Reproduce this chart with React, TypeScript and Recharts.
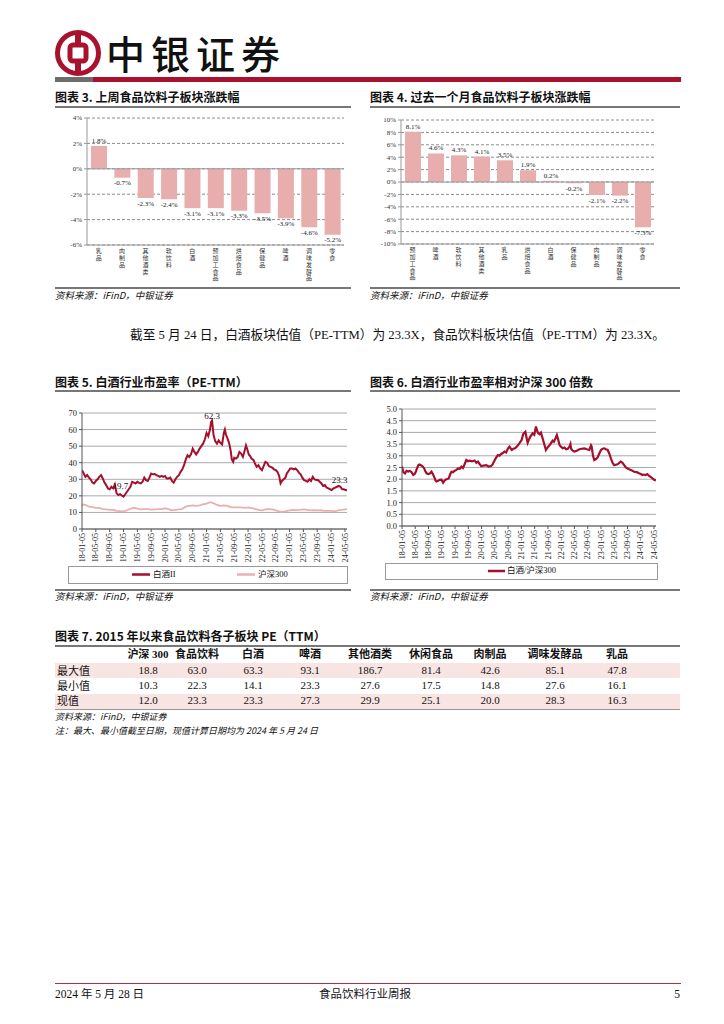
import React from 'react';
import {
  BarChart, Bar, XAxis, YAxis, CartesianGrid, ReferenceLine, LabelList,
  LineChart, Line, ReferenceDot,
} from 'recharts';

const SERIF = '"Liberation Serif", "Noto Sans CJK SC", serif';
const CJK = '"Noto Sans CJK SC", sans-serif';
const RED = '#A8122E';
const BAR = '#E8AEAE';

// ---- Chart 3: last week ----
const wkCats = ['乳品', '肉制品', '其他酒类', '软饮料', '白酒', '预加工食品', '烘焙食品', '保健品', '啤酒', '调味发酵品', '零食'];
const wkVals = [1.8, -0.7, -2.3, -2.4, -3.1, -3.1, -3.3, -3.5, -3.9, -4.6, -5.2];
const wkTicks = [-6, -4, -2, 0, 2, 4];

// ---- Chart 4: last month ----
const moCats = ['预加工食品', '啤酒', '软饮料', '其他酒类', '乳品', '烘焙食品', '白酒', '保健品', '肉制品', '调味发酵品', '零食'];
const moVals = [8.1, 4.6, 4.3, 4.1, 3.5, 1.9, 0.2, -0.2, -2.1, -2.2, -7.3];
const moTicks = [-10, -8, -6, -4, -2, 0, 2, 4, 6, 8, 10];

// ---- Chart 5/6: time axis (months since 2018-01-05) ----
const dateLabels = ['18-01-05', '18-05-05', '18-09-05', '19-01-05', '19-05-05', '19-09-05', '20-01-05', '20-05-05', '20-09-05', '21-01-05', '21-05-05', '21-09-05', '22-01-05', '22-05-05', '22-09-05', '23-01-05', '23-05-05', '23-09-05', '24-01-05', '24-05-05'];
const dateTickPos = [0, 4, 8, 12, 16, 20, 24, 28, 32, 36, 40, 44, 48, 52, 56, 60, 64, 68, 72, 76];
const peTicks = [0, 10, 20, 30, 40, 50, 60, 70];
const ratioTicks = [0, 0.5, 1, 1.5, 2, 2.5, 3, 3.5, 4, 4.5, 5];

const baijiuPE: [number, number][] = [
  [0, 35.5], [0.5, 33.5], [1, 31.5], [1.5, 32.5], [2, 31], [2.5, 30], [3, 28], [3.5, 27.5], [4, 29], [4.5, 30],
  [5, 31.5], [5.5, 32.5], [6, 30.5], [6.5, 28], [7, 26.5], [7.5, 24.5], [8, 24], [8.5, 25.5], [9, 24.5], [9.5, 26.8],
  [10, 21.5], [10.5, 20.5], [11, 21], [11.5, 20.2], [12, 19.5], [12.5, 21], [13, 22.5], [13.5, 24], [14, 25.5], [14.5, 28.5],
  [15, 28], [15.5, 27.5], [16, 28.5], [16.5, 27.8], [17, 27.5], [17.5, 28.5], [18, 31], [18.5, 29.5], [19, 29], [19.5, 31],
  [20, 33.5], [20.5, 33], [21, 33.2], [21.5, 32.5], [22, 32], [22.5, 31.5], [23, 32], [23.5, 31.5], [24, 32], [24.5, 30.5],
  [25, 30.5], [25.5, 31], [26, 29], [26.5, 28], [27, 30], [27.5, 31.5], [28, 32.5], [28.5, 34.5], [29, 36], [29.5, 38.5],
  [30, 42], [30.5, 44.5], [31, 43.5], [31.5, 45], [32, 48.5], [32.5, 46.5], [33, 45], [33.5, 46.5], [34, 48.5], [34.5, 50],
  [35, 51.5], [35.5, 54], [36, 58], [36.5, 56], [37, 60], [37.3, 64.5], [37.6, 65.5], [38, 57], [38.5, 53], [39, 51.5],
  [39.5, 53.5], [40, 52], [40.5, 51], [41, 58], [41.3, 60], [41.6, 57], [42, 55], [42.5, 52], [43, 47], [43.3, 42],
  [43.7, 40.5], [44, 43], [44.5, 42.5], [45, 43.5], [45.5, 46.5], [46, 45.5], [46.5, 43.5], [47, 47], [47.4, 50.5], [47.8, 48],
  [48.2, 45], [48.6, 44], [49, 42.5], [49.6, 41.5], [50, 39.5], [50.5, 37.5], [51, 38.5], [51.5, 36.5], [52, 35.5], [52.5, 38],
  [53, 40.5], [53.5, 40], [54, 38], [54.5, 37.5], [55, 37], [55.5, 36], [56, 35.5], [56.5, 34.5], [57, 32], [57.4, 27.5],
  [57.8, 29], [58.3, 30], [58.8, 31], [59.2, 33.5], [59.7, 35], [60.2, 36.5], [60.7, 36.5], [61.2, 36], [61.7, 36.5], [62.2, 35.5],
  [62.7, 34], [63.2, 33], [63.7, 31], [64.2, 29.5], [64.7, 29], [65.2, 28.5], [65.7, 30], [66.2, 29], [66.7, 31.5], [67.2, 30],
  [67.7, 29.5], [68.2, 29.5], [68.7, 28.5], [69.2, 27.5], [69.7, 26], [70.2, 26.5], [70.7, 25], [71.2, 24.5], [71.7, 24], [72.2, 23.5],
  [72.7, 24.5], [73.2, 25], [73.7, 25.5], [74.2, 26], [74.7, 25.5], [75.2, 24], [75.7, 24], [76.2, 23.5], [76.6, 23.3],
];

const hs300PE: [number, number][] = [
  [0, 14.8], [1, 14.5], [2, 13.5], [3, 13.2], [4, 12.8], [5, 12.8], [6, 12], [7, 11.8], [8, 11.5], [9, 11.6],
  [10, 11], [11, 10.8], [12, 10.6], [13, 11.3], [14, 12.2], [15, 12.8], [16, 12.3], [17, 11.8], [18, 12], [19, 12],
  [20, 11.7], [21, 11.9], [22, 12], [23, 12], [24, 12.5], [25, 12], [26, 11.2], [27, 11.5], [28, 11.8], [29, 12.2],
  [30, 13.5], [31, 14], [32, 14.2], [33, 14], [34, 14.3], [35, 14.8], [36, 15.3], [37, 16.2], [38, 15.6], [39, 14.5],
  [40, 14], [41, 14.2], [42, 14], [43, 13.2], [44, 13], [45, 13], [46, 13], [47, 12.8], [48, 13], [49, 12.6],
  [50, 12.2], [51, 11.5], [52, 11.2], [53, 11.8], [54, 12], [55, 11.8], [56, 11.2], [57, 10.6], [58, 10.4], [59, 10.8],
  [60, 11.2], [61, 11.5], [62, 11.4], [63, 11.5], [64, 11.8], [65, 11.6], [66, 11.3], [67, 11.4], [68, 11.2], [69, 11.3],
  [70, 11], [71, 10.9], [72, 10.9], [73, 10.6], [74, 11.2], [75, 11.5], [76, 11.8], [76.6, 12.0],
];

const ratioVals: [number, number][] = [
  [0, 2.54], [0.4, 2.3], [0.9, 2.25], [1.4, 2.36], [1.9, 2.33], [2.4, 2.35], [2.9, 2.3], [3.4, 2.18], [3.8, 2.22], [4.1, 2.3],
  [4.5, 2.45], [4.9, 2.6], [5.3, 2.63], [5.7, 2.6], [6.2, 2.55], [6.7, 2.46], [7.0, 2.35], [7.4, 2.25], [7.9, 2.22], [8.4, 2.24],
  [8.9, 2.32], [9.3, 2.22], [9.7, 2.1], [10.1, 1.95], [10.4, 1.9], [10.9, 1.93], [11.4, 1.97], [11.9, 1.98], [12.4, 1.85], [12.9, 1.95],
  [13.4, 2.0], [13.8, 2.02], [14.1, 2.04], [14.5, 2.2], [14.9, 2.32], [15.4, 2.3], [15.9, 2.36], [16.4, 2.4], [16.9, 2.46], [17.4, 2.44],
  [17.9, 2.54], [18.4, 2.48], [18.9, 2.65], [19.4, 2.82], [19.9, 2.77], [20.4, 2.79], [21.1, 2.76], [21.9, 2.8], [22.4, 2.7], [22.9, 2.75],
  [23.4, 2.65], [23.9, 2.56], [24.6, 2.58], [25.4, 2.6], [26.1, 2.54], [26.9, 2.56], [27.3, 2.62], [27.7, 2.75], [28.3, 2.9], [28.9, 3.03],
  [29.4, 3.0], [29.9, 3.08], [30.4, 3.12], [30.9, 3.18], [31.4, 3.14], [31.9, 3.3], [32.4, 3.39], [33.1, 3.25], [33.6, 3.3], [34.1, 3.32],
  [34.8, 3.42], [35.4, 3.53], [36.1, 3.68], [36.5, 3.9], [36.7, 3.96], [37.2, 4.03], [37.6, 3.75], [37.9, 3.56], [38.3, 3.7], [38.7, 3.82],
  [39.1, 3.9], [39.4, 3.96], [39.9, 3.9], [40.4, 4.25], [40.8, 4.05], [41.1, 3.96], [41.5, 3.92], [41.9, 3.99], [42.3, 3.8], [42.7, 3.6],
  [43.1, 3.4], [43.4, 3.25], [44.1, 3.39], [44.5, 3.45], [44.9, 3.53], [45.4, 3.65], [45.8, 3.6], [46.3, 3.75], [46.7, 3.89], [47.1, 3.7],
  [47.5, 3.46], [48.0, 3.38], [48.5, 3.32], [49.0, 3.35], [49.5, 3.28], [50.0, 3.3], [50.5, 3.39], [50.8, 3.5], [51.0, 3.3], [51.5, 3.22],
  [52.0, 3.18], [52.7, 3.22], [53.5, 3.28], [54.2, 3.3], [55.0, 3.32], [55.7, 3.28], [56.5, 3.25], [57.0, 3.45], [57.2, 3.39], [57.6, 3.0],
  [58.0, 2.82], [58.5, 2.86], [59.0, 2.93], [59.5, 3.1], [60.0, 3.25], [60.5, 3.3], [61.0, 3.32], [61.5, 3.28], [62.0, 3.25], [62.5, 3.1],
  [63.0, 2.89], [63.5, 2.7], [64.0, 2.6], [64.5, 2.62], [65.0, 2.64], [65.5, 2.7], [66.0, 2.75], [66.5, 2.7], [67.0, 2.6], [67.5, 2.5],
  [68.0, 2.46], [68.5, 2.42], [69.0, 2.39], [69.5, 2.36], [70.0, 2.32], [70.8, 2.3], [71.5, 2.25], [72.0, 2.22], [72.5, 2.18], [73.0, 2.2],
  [73.5, 2.18], [74.0, 2.22], [74.5, 2.14], [75.0, 2.1], [75.5, 2.04], [76.0, 1.98], [76.6, 1.95],
];

// ---- Table 7 ----
const tblHead = ['沪深 300', '食品饮料', '白酒', '啤酒', '其他酒类', '休闲食品', '肉制品', '调味发酵品', '乳品'];
const tblRowNames = ['最大值', '最小值', '现值'];
const tblMax = ['18.8', '63.0', '63.3', '93.1', '186.7', '81.4', '42.6', '85.1', '47.8'];
const tblMin = ['10.3', '22.3', '14.1', '23.3', '27.6', '17.5', '14.8', '27.6', '16.1'];
const tblNow = ['12.0', '23.3', '23.3', '27.3', '29.9', '25.1', '20.0', '28.3', '16.3'];

// ---- derived tables ----
const wkData = wkCats.map((name, i) => ({ name, v: wkVals[i] }));
const moData = moCats.map((name, i) => ({ name, v: moVals[i] }));
const peData = (() => {
  const m = new Map<number, any>();
  baijiuPE.forEach(([t, v]) => m.set(t, { ...(m.get(t) || { t }), bj: v }));
  hs300PE.forEach(([t, v]) => m.set(t, { ...(m.get(t) || { t }), hs: v }));
  return Array.from(m.values()).sort((a, b) => a.t - b.t);
})();
const ratioData = ratioVals.map(([t, v]) => ({ t, r: v }));

// ---------- helpers ----------
type TP = { x: number; y: number; size: number; children: React.ReactNode; bold?: boolean; italic?: boolean; anchor?: 'start' | 'middle' | 'end'; font?: string; color?: string };
const T = ({ x, y, size, children, bold, italic, anchor = 'start', font = SERIF, color = '#111' }: TP) => {
  const base: React.CSSProperties = {
    position: 'absolute', top: y - size * 0.7, fontSize: size, lineHeight: `${size * 1.4}px`,
    whiteSpace: 'nowrap', fontWeight: bold ? 700 : 400, fontStyle: italic ? 'italic' : 'normal',
    fontFamily: font, color,
  };
  if (anchor === 'middle') return <div style={{ ...base, left: x - 200, width: 400, textAlign: 'center' }}>{children}</div>;
  if (anchor === 'end') return <div style={{ ...base, right: 724 - x, textAlign: 'right' }}>{children}</div>;
  return <div style={{ ...base, left: x }}>{children}</div>;
};
const HLine = ({ x1, x2, y, h = 1, color = '#777' }: { x1: number; x2: number; y: number; h?: number; color?: string }) => (
  <div style={{ position: 'absolute', left: x1, top: y, width: x2 - x1, height: h, background: color }} />
);

// category label written top-to-bottom, one text element per label
const VertTick = (props: any) => {
  const { x, y, payload } = props;
  return (
    <text x={x} y={y + 3} style={{ writingMode: 'vertical-rl' } as any} fontSize={6} letterSpacing={0.8}
      fill="#333" fontFamily={CJK}>{String(payload.value)}</text>
  );
};

const barLabel = (props: any) => {
  const { x, y, width, height, value } = props;
  const top = Math.min(y, y + height);
  const bot = Math.max(y, y + height);
  const ty = value >= 0 ? top - 3 : bot + 7.5;
  return (
    <text x={x + width / 2} y={ty} textAnchor="middle" fontSize={7} fontFamily={SERIF} fill="#222">
      {`${Number(value).toFixed(1)}%`}
    </text>
  );
};

const DateTick = (props: any) => {
  const { x, y, payload } = props;
  const idx = dateTickPos.indexOf(payload.value);
  const lbl = idx >= 0 ? dateLabels[idx] : '';
  return (
    <text x={x} y={y} transform={`rotate(-90 ${x} ${y})`} textAnchor="end" dy="0.33em" fontSize={8} fontFamily={SERIF} fill="#222">
      {lbl}
    </text>
  );
};

const annot = (txt: string, dy: number) => (p: any) => (
  <text x={p.cx} y={p.cy + dy} textAnchor="middle" fontSize={9} fontFamily={SERIF} fill="#222">{txt}</text>
);

function BarPanel({ data, ticks, plotH, left, top, yw, mt, mr, h }: any) {
  return (
    <div style={{ position: 'absolute', left, top }}>
      <BarChart width={300} height={h} data={data} margin={{ top: mt, right: mr, left: 0, bottom: 0 }}>
        <CartesianGrid vertical={false} stroke="#8c8c8c" strokeDasharray="3 2" />
        <XAxis dataKey="name" interval={0} tickLine={false} tickSize={0} tickMargin={0} axisLine={{ stroke: '#999' }} height={h - mt - plotH} tick={<VertTick />} />
        <YAxis domain={[ticks[0], ticks[ticks.length - 1]]} ticks={ticks} interval={0} width={yw} tickFormatter={(v: number) => `${v}%`}
          tick={{ fontSize: 7, fill: '#333', fontFamily: SERIF }} axisLine={{ stroke: '#999' }} tickLine={{ stroke: '#999' }} tickSize={3} tickMargin={2} />
        <ReferenceLine y={0} stroke="#999" />
        <Bar dataKey="v" fill={BAR} barSize={16} isAnimationActive={false}>
          <LabelList dataKey="v" content={barLabel} />
        </Bar>
      </BarChart>
    </div>
  );
}

export default function App() {
  const colX = [148, 197, 253, 310, 370, 431, 490, 555, 617];
  const rows = [tblMax, tblMin, tblNow];
  const rowY = [671, 686, 701];
  return (
    <div style={{ position: 'absolute', left: 0, top: 0, width: 724, height: 1024, background: '#fff', overflow: 'hidden', fontFamily: SERIF, color: '#111' }}>
      {/* header */}
      <svg style={{ position: 'absolute', left: 54, top: 29 }} width={48} height={48} viewBox="0 0 48 48">
        <circle cx={24} cy={24} r={20.5} fill="none" stroke={RED} strokeWidth={5} />
        <rect x={21} y={4} width={6} height={12} fill={RED} />
        <rect x={21} y={32} width={6} height={12} fill={RED} />
        <rect x={16} y={16} width={16} height={16} rx={3} fill="#fff" stroke={RED} strokeWidth={5} />
      </svg>
      <T x={106} y={52} size={39} font={CJK}><span style={{ letterSpacing: 6, fontWeight: 500 }}>中银证券</span></T>
      <HLine x1={55} x2={93} y={77} h={5} color="#6d6d6d" />
      <HLine x1={93} x2={681} y={77} h={5} color={RED} />

      {/* chart 3 & 4 titles */}
      <T x={55} y={97} size={12} bold font={CJK}>图表 3. 上周食品饮料子板块涨跌幅</T>
      <HLine x1={55} x2={351} y={106} h={1.5} color="#777" />
      <T x={370} y={97} size={12} bold font={CJK}>图表 4. 过去一个月食品饮料子板块涨跌幅</T>
      <HLine x1={370} x2={680} y={106} h={1.5} color="#777" />

      <BarPanel data={wkData} ticks={wkTicks} plotH={127} left={55} top={105} yw={32} mt={13} mr={11} h={180} />
      <BarPanel data={moData} ticks={moTicks} plotH={124} left={365} top={105} yw={36} mt={15} mr={11} h={180} />

      <HLine x1={55} x2={351} y={287} h={1.5} color="#777" />
      <T x={55} y={296} size={9.5} italic font={CJK}>资料来源：iFinD，中银证券</T>
      <HLine x1={370} x2={680} y={287} h={1.5} color="#777" />
      <T x={370} y={296} size={9.5} italic font={CJK}>资料来源：iFinD，中银证券</T>

      {/* body text */}
      <T x={130} y={336} size={12.7} font={SERIF}>截至 5 月 24 日，白酒板块估值（PE-TTM）为 23.3X，食品饮料板块估值（PE-TTM）为 23.3X。</T>

      {/* chart 5 & 6 titles */}
      <T x={55} y={382} size={12} bold font={CJK}>图表 5. 白酒行业市盈率（PE-TTM）</T>
      <HLine x1={55} x2={351} y={390} h={1.5} color="#777" />
      <T x={370} y={382} size={12} bold font={CJK}>图表 6. 白酒行业市盈率相对沪深 300 倍数</T>
      <HLine x1={370} x2={680} y={390} h={1.5} color="#777" />

      {/* chart 5 */}
      <div style={{ position: 'absolute', left: 55, top: 400 }}>
        <LineChart width={300} height={165} data={peData} margin={{ top: 13, right: 8, left: 0, bottom: 0 }}>
          <CartesianGrid vertical={false} stroke="#aaa" />
          <XAxis type="number" dataKey="t" domain={[0, 76.6]} ticks={dateTickPos} interval={0} allowDataOverflow
            height={36} tick={<DateTick />} axisLine={{ stroke: '#555' }} tickLine={{ stroke: '#555' }} tickSize={3} tickMargin={1} />
          <YAxis domain={[0, 70]} ticks={peTicks} interval={0} width={27} tick={{ fontSize: 8.5, fill: '#222', fontFamily: SERIF }}
            axisLine={{ stroke: '#555' }} tickLine={{ stroke: '#555' }} tickSize={3} tickMargin={2} />
          <Line dataKey="hs" stroke="#E8B0B0" strokeWidth={1.8} dot={false} activeDot={false} connectNulls isAnimationActive={false} />
          <Line dataKey="bj" stroke="#A50F2D" strokeWidth={2} dot={false} activeDot={false} connectNulls isAnimationActive={false} />
          <ReferenceDot x={37.6} y={65.5} r={0} shape={annot('62.3', -1)} />
          <ReferenceDot x={11.1} y={20.5} r={0} shape={annot('19.7', -6)} />
          <ReferenceDot x={74.5} y={25.5} r={0} shape={annot('23.3', -4)} />
        </LineChart>
      </div>
      <div style={{ position: 'absolute', left: 68, top: 566, width: 278, height: 16, border: '1px solid #999' }} />
      <svg style={{ position: 'absolute', left: 0, top: 566 }} width={400} height={18}>
        <line x1={132} x2={150} y1={8.5} y2={8.5} stroke="#A50F2D" strokeWidth={2.5} />
        <line x1={237} x2={255} y1={8.5} y2={8.5} stroke="#E8B0B0" strokeWidth={2.5} />
      </svg>
      <T x={153} y={575} size={8.5} font={SERIF}>白酒II</T>
      <T x={258} y={575} size={8.5} font={SERIF}>沪深300</T>
      <HLine x1={55} x2={351} y={589} h={1.5} color="#777" />
      <T x={55} y={597} size={9.5} italic font={CJK}>资料来源：iFinD，中银证券</T>

      {/* chart 6 */}
      <div style={{ position: 'absolute', left: 365, top: 400 }}>
        <LineChart width={300} height={162} data={ratioData} margin={{ top: 9, right: 9, left: 0, bottom: 0 }}>
          <CartesianGrid vertical={false} stroke="#aaa" />
          <XAxis type="number" dataKey="t" domain={[0, 76.6]} ticks={dateTickPos} interval={0} allowDataOverflow
            height={36} tick={<DateTick />} axisLine={{ stroke: '#555' }} tickLine={{ stroke: '#555' }} tickSize={3} tickMargin={1} />
          <YAxis domain={[0, 5]} ticks={ratioTicks} interval={0} width={37} tickFormatter={(v: number) => v.toFixed(1)}
            tick={{ fontSize: 8.5, fill: '#222', fontFamily: SERIF }} axisLine={{ stroke: '#555' }} tickLine={{ stroke: '#555' }} tickSize={3} tickMargin={2} />
          <Line dataKey="r" stroke="#A50F2D" strokeWidth={2.2} dot={false} activeDot={false} isAnimationActive={false} />
        </LineChart>
      </div>
      <div style={{ position: 'absolute', left: 385, top: 563, width: 271, height: 15, border: '1px solid #999' }} />
      <svg style={{ position: 'absolute', left: 0, top: 563 }} width={700} height={18}>
        <line x1={488} x2={505} y1={8} y2={8} stroke="#A50F2D" strokeWidth={2.5} />
      </svg>
      <T x={507} y={571} size={8.5} font={SERIF}>白酒/沪深300</T>
      <HLine x1={370} x2={680} y={589} h={1.5} color="#777" />
      <T x={370} y={597} size={9.5} italic font={CJK}>资料来源：iFinD，中银证券</T>

      {/* table 7 */}
      <T x={55} y={636} size={12} bold font={CJK}>图表 7. 2015 年以来食品饮料各子板块 PE（TTM）</T>
      <HLine x1={55} x2={680} y={645} h={1.5} color="#777" />
      {tblHead.map((h, i) => (
        <T key={h} x={colX[i]} y={655} size={11} bold anchor="middle" font={SERIF}>{h}</T>
      ))}
      <div style={{ position: 'absolute', left: 55, top: 663, width: 625, height: 15, background: '#F9E4E4' }} />
      <div style={{ position: 'absolute', left: 55, top: 693.5, width: 625, height: 15, background: '#F9E4E4' }} />
      {tblRowNames.map((n, r) => (
        <T key={n} x={57} y={rowY[r]} size={11} font={CJK}>{n}</T>
      ))}
      {rows.map((row, r) => row.map((v, i) => (
        <T key={`${r}-${i}`} x={colX[i]} y={rowY[r]} size={11} anchor="middle" font={SERIF}>{v}</T>
      )))}
      <HLine x1={55} x2={680} y={708.5} h={1} color="#999" />
      <T x={55} y={717} size={9} italic font={CJK}>资料来源：iFinD，中银证券</T>
      <T x={55} y={731} size={9} italic font={CJK}>注：最大、最小值截至日期，现值计算日期均为 2024 年 5 月 24 日</T>

      {/* footer */}
      <HLine x1={55} x2={681} y={982.5} h={1.5} color="#B0313F" />
      <T x={55} y={994} size={11.5} font={SERIF}>2024 年 5 月 28 日</T>
      <T x={365} y={994} size={11.5} anchor="middle" font={SERIF}>食品饮料行业周报</T>
      <T x={680} y={994} size={11.5} anchor="end" font={SERIF}>5</T>
    </div>
  );
}
